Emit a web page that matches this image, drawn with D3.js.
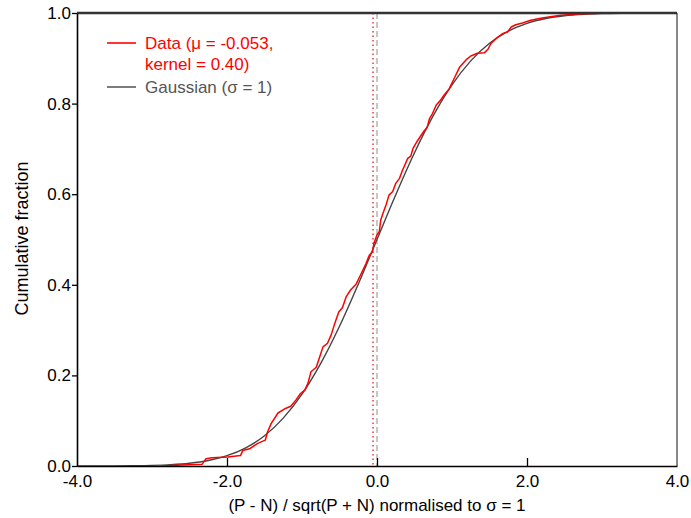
<!DOCTYPE html>
<html>
<head>
<meta charset="utf-8">
<script src="https://cdn.jsdelivr.net/npm/d3@7"></script>
<style>
  body { margin: 0; background: #fff; }
  text { font-family: 'Liberation Sans', Arial, sans-serif; }
</style>
</head>
<body>
<div id="chart"></div>
<script>
// red curve: smoothed cumulative fraction
const dataX = [-2.88, -2.6, -2.33, -2.28, -2.2, -1.99, -1.82, -1.79, -1.7, -1.59, -1.49, -1.46, -1.41, -1.32, -1.22, -1.15, -1.08, -1.02, -0.96, -0.92, -0.88, -0.81, -0.77, -0.72, -0.66, -0.61, -0.57, -0.51, -0.46, -0.41, -0.35, -0.28, -0.21, -0.15, -0.1, -0.06, -0.04, 0.0, 0.03, 0.05, 0.08, 0.12, 0.16, 0.21, 0.25, 0.3, 0.34, 0.41, 0.45, 0.48, 0.54, 0.58, 0.63, 0.67, 0.7, 0.74, 0.79, 0.84, 0.9, 0.96, 1.03, 1.1, 1.19, 1.25, 1.34, 1.43, 1.48, 1.52, 1.59, 1.68, 1.74, 1.79, 1.85, 1.94, 2.05, 2.2, 2.45, 2.7, 3.05]
const dataY = [0.0, 0.002, 0.004, 0.016, 0.018, 0.02, 0.023, 0.034, 0.038, 0.05, 0.057, 0.075, 0.094, 0.117, 0.127, 0.132, 0.146, 0.16, 0.168, 0.183, 0.208, 0.218, 0.238, 0.263, 0.271, 0.29, 0.311, 0.34, 0.35, 0.374, 0.389, 0.401, 0.425, 0.446, 0.466, 0.473, 0.492, 0.51, 0.517, 0.543, 0.558, 0.576, 0.598, 0.606, 0.624, 0.635, 0.653, 0.679, 0.684, 0.701, 0.718, 0.728, 0.74, 0.748, 0.767, 0.778, 0.797, 0.806, 0.82, 0.832, 0.856, 0.88, 0.897, 0.905, 0.911, 0.912, 0.92, 0.933, 0.944, 0.955, 0.958, 0.969, 0.974, 0.978, 0.984, 0.989, 0.995, 0.998, 1.0]

// gaussian reference (sigma = 1), tabulated values
const gaussX = [-4, -3.75, -3.5, -3.25, -3, -2.75, -2.5, -2.25, -2, -1.75, -1.5, -1.25, -1, -0.75, -0.5, -0.25, 0, 0.25, 0.5, 0.75, 1, 1.25, 1.5, 1.75, 2, 2.25, 2.5, 2.75, 3, 3.25, 3.5, 3.75, 4]
const gaussY = [0.00003, 0.00009, 0.00023, 0.00058, 0.00135, 0.00298, 0.00621, 0.01222, 0.02275, 0.04006, 0.06681, 0.10565, 0.15866, 0.22663, 0.30854, 0.40129, 0.5, 0.59871, 0.69146, 0.77337, 0.84134, 0.89435, 0.93319, 0.95994, 0.97725, 0.98778, 0.99379, 0.99702, 0.99865, 0.99942, 0.99977, 0.99991, 0.99997]

const mu = -0.053
const xTicks = [-4, -2, 0, 2, 4]
const yTicks = [0, 0.2, 0.4, 0.6, 0.8, 1.0]
const legendLabels = ['Data (\u03bc = -0.053,', 'kernel = 0.40)', 'Gaussian (\u03c3 = 1)']

const margin = { top: 13, left: 77, right: 14, bottom: 52 }
const width = 691 - margin.left - margin.right
const height = 518 - margin.top - margin.bottom

const svg = d3
  .select('#chart')
  .append('svg')
  .attr('width', 691)
  .attr('height', 518)
  .append('g')
  .attr('transform', `translate(${margin.left},${margin.top})`)

const xScale = d3.scaleLinear().domain([-4, 4]).range([0, width])
const yScale = d3.scaleLinear().domain([0, 1]).range([height, 0])

// reference lines at 0 and at mu
svg
  .append('line')
  .attr('x1', xScale(0))
  .attr('x2', xScale(0))
  .attr('y1', 0)
  .attr('y2', height)
  .attr('stroke', '#aaa')
  .attr('stroke-width', 1.3)
  .attr('stroke-dasharray', '6,3')

svg
  .append('line')
  .attr('x1', xScale(mu))
  .attr('x2', xScale(mu))
  .attr('y1', 0)
  .attr('y2', height)
  .attr('stroke', '#f22')
  .attr('stroke-width', 1.4)
  .attr('stroke-dasharray', '1.5,3')

const gauss = gaussX.map((x, i) => ({ x: x, y: gaussY[i] }))
const data = dataX.map((x, i) => ({ x: x, y: dataY[i] }))

const line = d3
  .line()
  .x(d => xScale(d.x))
  .y(d => yScale(d.y))

svg
  .append('path')
  .datum(gauss)
  .attr('d', line.curve(d3.curveMonotoneX))
  .attr('fill', 'none')
  .attr('stroke', '#444')
  .attr('stroke-width', 1.4)

svg
  .append('path')
  .datum(data)
  .attr('d', line.curve(d3.curveLinear))
  .attr('fill', 'none')
  .attr('stroke', '#f00')
  .attr('stroke-width', 1.5)
  .attr('stroke-linejoin', 'round')

// frame: thick top, thin right
svg
  .append('line')
  .attr('x1', 0)
  .attr('x2', width)
  .attr('y1', 0)
  .attr('y2', 0)
  .attr('stroke', '#333')
  .attr('stroke-width', 2.5)

svg
  .append('line')
  .attr('x1', width)
  .attr('x2', width)
  .attr('y1', 0)
  .attr('y2', height)
  .attr('stroke', '#111')
  .attr('stroke-width', 1)

// axes (plain hyphen for negatives, like the original)
const fmt = d => d.toFixed(1)

const xAxis = d3
  .axisBottom(xScale)
  .tickValues(xTicks)
  .tickFormat(fmt)
  .tickSizeInner(-8)
  .tickSizeOuter(0)
  .tickPadding(9)

const yAxis = d3
  .axisLeft(yScale)
  .tickValues(yTicks)
  .tickFormat(fmt)
  .tickSizeInner(5)
  .tickSizeOuter(0)
  .tickPadding(1)

const gx = svg
  .append('g')
  .attr('transform', `translate(0,${height})`)
  .call(xAxis)

const gy = svg.append('g').call(yAxis)

;[gx, gy].forEach(g => {
  g.select('.domain').attr('stroke', '#000').attr('stroke-width', 1.6)
  g.selectAll('.tick line').attr('stroke', '#000').attr('stroke-width', 1.3)
  g.selectAll('.tick text')
    .attr('font-size', 17)
    .attr('font-family', "'Liberation Sans', Arial, sans-serif")
    .attr('fill', '#000')
})
gx.selectAll('.tick line').filter(d => d === -4 || d === 4).remove()

svg
  .append('text')
  .attr('x', xScale(0))
  .attr('y', height + 45)
  .attr('text-anchor', 'middle')
  .attr('font-size', 17)
  .text('(P - N) / sqrt(P + N) normalised to \u03c3 = 1')

svg
  .append('text')
  .attr('transform', `translate(${-49},${height / 2 - 1}) rotate(-90)`)
  .attr('text-anchor', 'middle')
  .attr('font-size', 18)
  .text('Cumulative fraction')

// legend
const legend = svg.append('g').attr('transform', 'translate(30,0)')
const legendRows = [
  { y: 30, color: '#f00', textColor: '#f00', texts: [legendLabels[0], legendLabels[1]] },
  { y: 74, color: '#444', textColor: '#555', texts: [legendLabels[2]] }
]
legendRows.forEach(row => {
  legend
    .append('line')
    .attr('x1', 0)
    .attr('x2', 29)
    .attr('y1', row.y)
    .attr('y2', row.y)
    .attr('stroke', row.color)
    .attr('stroke-width', row.color === '#f00' ? 1.6 : 1.4)
  row.texts.forEach((t, i) => {
    legend
      .append('text')
      .attr('x', 38)
      .attr('y', row.y + i * 21)
      .attr('dy', '0.35em')
      .attr('font-size', 17)
      .attr('fill', row.textColor)
      .text(t)
  })
})
</script>
</body>
</html>
